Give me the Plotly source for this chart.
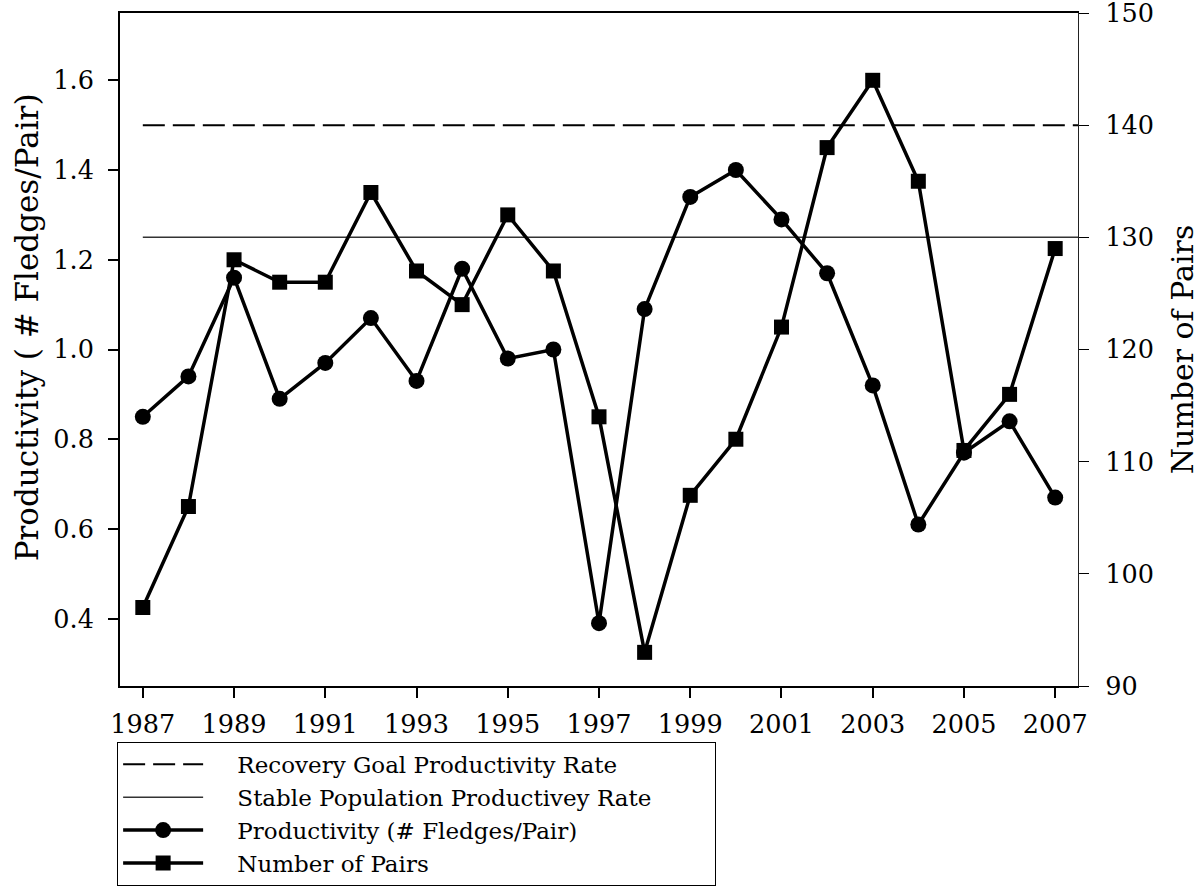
import plotly.graph_objects as go

YEARS = list(range(1987, 2008))
PRODUCTIVITY = [0.85, 0.94, 1.16, 0.89, 0.97, 1.07, 0.93, 1.18, 0.98, 1.00, 0.39,
                1.09, 1.34, 1.40, 1.29, 1.17, 0.92, 0.61, 0.77, 0.84, 0.67]
PAIRS = [97, 106, 128, 126, 126, 134, 127, 124, 132, 127, 114,
         93, 107, 112, 122, 138, 144, 135, 111, 116, 129]

REF_SPAN = [1987, 2007.5]
RECOVERY_GOAL = 1.5
STABLE_RATE = 1.25

SERIF = "DejaVu Serif"
PAD = "\u00a0" * 4  # gap between legend symbol and label
TAIL = "\u00a0" * 8  # widen the legend box a little

fig = go.Figure()
fig.add_trace(go.Scatter(
    x=REF_SPAN, y=[RECOVERY_GOAL] * 2,
    mode="lines",
    line=dict(color="black", width=2, dash="22px,8px"),
    name=PAD + "Recovery Goal Productivity Rate",
))
fig.add_trace(go.Scatter(
    x=REF_SPAN, y=[STABLE_RATE] * 2,
    mode="lines",
    line=dict(color="#333333", width=1.5),
    name=PAD + "Stable Population Productivey Rate" + TAIL,
))
fig.add_trace(go.Scatter(
    x=YEARS, y=PRODUCTIVITY,
    mode="lines+markers",
    line=dict(color="black", width=3.5),
    marker=dict(symbol="circle", size=16, color="black", line=dict(width=0)),
    name=PAD + "Productivity (# Fledges/Pair)",
))
fig.add_trace(go.Scatter(
    x=YEARS, y=PAIRS,
    mode="lines+markers",
    line=dict(color="black", width=3.5),
    marker=dict(symbol="square", size=15, color="black", line=dict(width=0)),
    name=PAD + "Number of Pairs",
    yaxis="y2",
))

fig.add_annotation(
    text="Productivity ( # Fledges/Pair)",
    xref="paper", yref="paper", x=-0.097, y=0.533,
    xanchor="center", yanchor="middle",
    textangle=-90, showarrow=False,
    font=dict(family=SERIF, size=31, color="black"),
)

fig.update_layout(
    width=1200, height=888,
    paper_bgcolor="white", plot_bgcolor="white",
    margin=dict(l=120, r=122, t=13, b=202, autoexpand=False),
    font=dict(family=SERIF, color="black"),
    xaxis=dict(
        range=[1986.5, 2007.5],
        tickmode="array", tickvals=YEARS[::2], ticktext=[str(y) for y in YEARS[::2]],
        ticks="outside", ticklen=10, tickwidth=1.5, tickcolor="black",
        showline=True, linecolor="black", linewidth=2, mirror=True,
        showgrid=False, zeroline=False, automargin=False,
        tickfont=dict(size=25.5), ticklabelstandoff=4,
    ),
    yaxis=dict(
        range=[0.25, 1.75],
        tickvals=[0.4, 0.6, 0.8, 1.0, 1.2, 1.4, 1.6],
        tickformat=".1f",
        ticks="outside", ticklen=10, tickwidth=1.5, tickcolor="black",
        showline=True, linecolor="black", linewidth=2,
        showgrid=False, zeroline=False, automargin=False,
        tickfont=dict(size=25.5), ticklabelstandoff=9,
    ),
    yaxis2=dict(
        overlaying="y", side="right",
        range=[90, 150], dtick=10,
        ticks="outside", ticklen=10, tickwidth=1, tickcolor="black",
        showline=True, linecolor="#222222", linewidth=1.2,
        showgrid=False, zeroline=False, automargin=False,
        tickfont=dict(size=25.5), ticklabelstandoff=11,
        ticklabeloverflow="allow",
        title=dict(text="Number of Pairs", font=dict(size=30), standoff=19),
    ),
    legend=dict(
        x=-0.003, y=-0.083, xanchor="left", yanchor="top",
        bordercolor="black", borderwidth=1,
        font=dict(family=SERIF, size=23),
        itemwidth=80, tracegroupgap=0,
        bgcolor="white",
    ),
    showlegend=True,
)

# the page body has a default 8px margin; drop it so the 1200x888 figure fills the window
fig.write_html(
    "out.html",
    config={"displayModeBar": False},
    post_script="document.body.style.margin='0';document.body.style.overflow='hidden';",
)
